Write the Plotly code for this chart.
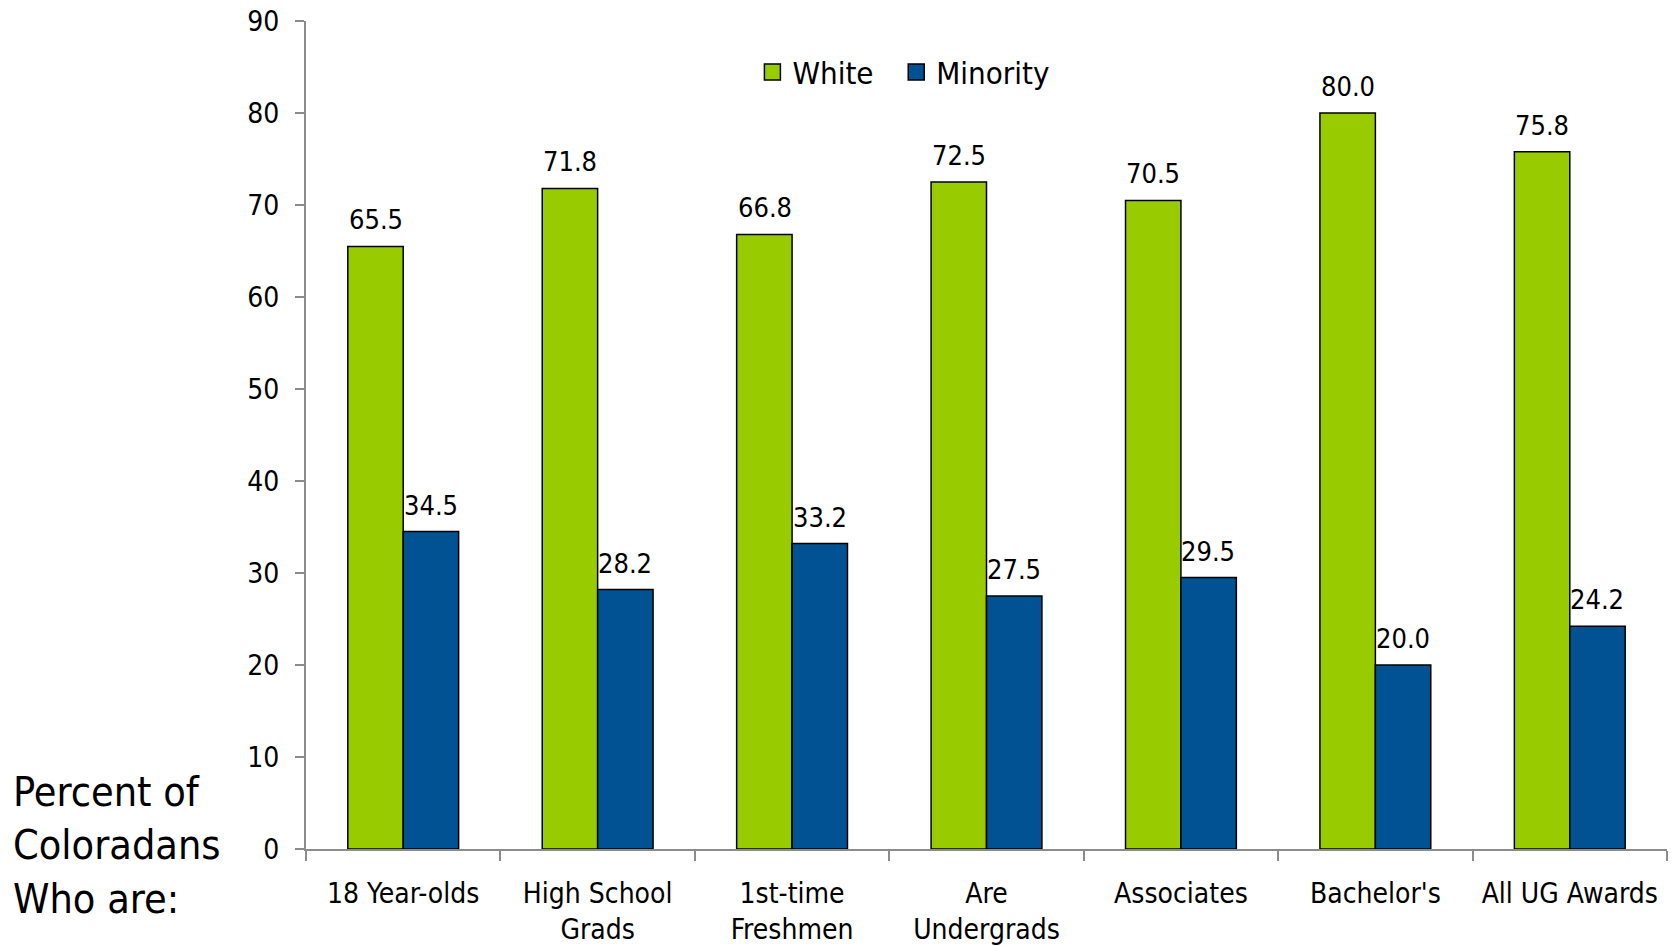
import plotly.graph_objects as go

categories = ["18 Year-olds", "High School<br>Grads", "1st-time<br>Freshmen",
              "Are<br>Undergrads", "Associates", "Bachelor's", "All UG Awards"]
white = [65.5, 71.8, 66.8, 72.5, 70.5, 80.0, 75.8]
minority = [34.5, 28.2, 33.2, 27.5, 29.5, 20.0, 24.2]
y_ticks = [0, 10, 20, 30, 40, 50, 60, 70, 80, 90]

FONT = "DejaVu Sans Condensed, DejaVu Sans, sans-serif"
GREEN = "#99cc00"
BLUE = "#005293"
AXIS = "#8c8c8c"

fig = go.Figure()
legend_names = {"White": "White\u00a0\u00a0", "Minority": "Minority"}
for name, vals, color in (("White", white, GREEN), ("Minority", minority, BLUE)):
    fig.add_trace(go.Bar(name=name, x=categories, y=vals, showlegend=False,
                         marker=dict(color=color, line=dict(color="black", width=1.5))))
    # larger square swatch for the legend
    fig.add_trace(go.Scatter(name=legend_names[name], x=[None], y=[None], mode="markers",
                             marker=dict(symbol="square", size=17, color=color,
                                         line=dict(color="black", width=1.5))))

# value labels above each bar
for series, shift in ((white, -27.5), (minority, 27.5)):
    for cat, v in zip(categories, series):
        fig.add_annotation(x=cat, y=v, text=f"{v:.1f}", showarrow=False,
                           xshift=shift, yshift=9, yanchor="bottom",
                           font=dict(family=FONT, size=27, color="black"))

fig.add_annotation(xref="paper", yref="paper", x=-0.217, y=0.004,
                   xanchor="left", yanchor="middle", align="left",
                   text="Percent of<br>Coloradans<br>Who are:", showarrow=False,
                   font=dict(family=FONT, size=41, color="black"))

fig.update_layout(
    width=1673, height=946,
    margin=dict(l=306, r=6, t=21, b=97),
    paper_bgcolor="white", plot_bgcolor="white",
    barmode="group", bargap=0.43, bargroupgap=0,
    font=dict(family=FONT, size=27, color="black"),
    legend=dict(orientation="h", x=0.328, y=0.938, xanchor="left", yanchor="middle",
                font=dict(family=FONT, size=31), itemwidth=30,
                bgcolor="rgba(0,0,0,0)"),
    xaxis=dict(showline=True, linecolor=AXIS, linewidth=2, ticks="outside",
               tickson="boundaries", ticklen=10, tickcolor=AXIS, tickwidth=2,
               showgrid=False, tickfont=dict(family=FONT, size=28), tickangle=0,
               ticklabelstandoff=18, automargin=False),
    yaxis=dict(range=[0, 90], tickvals=y_ticks, showline=True, linecolor=AXIS,
               linewidth=2, ticks="outside", ticklen=9, tickcolor=AXIS, tickwidth=2,
               showgrid=False, zeroline=False, tickfont=dict(family=FONT, size=28),
               ticklabelstandoff=10, automargin=False),
)

fig.write_html("out.html")
